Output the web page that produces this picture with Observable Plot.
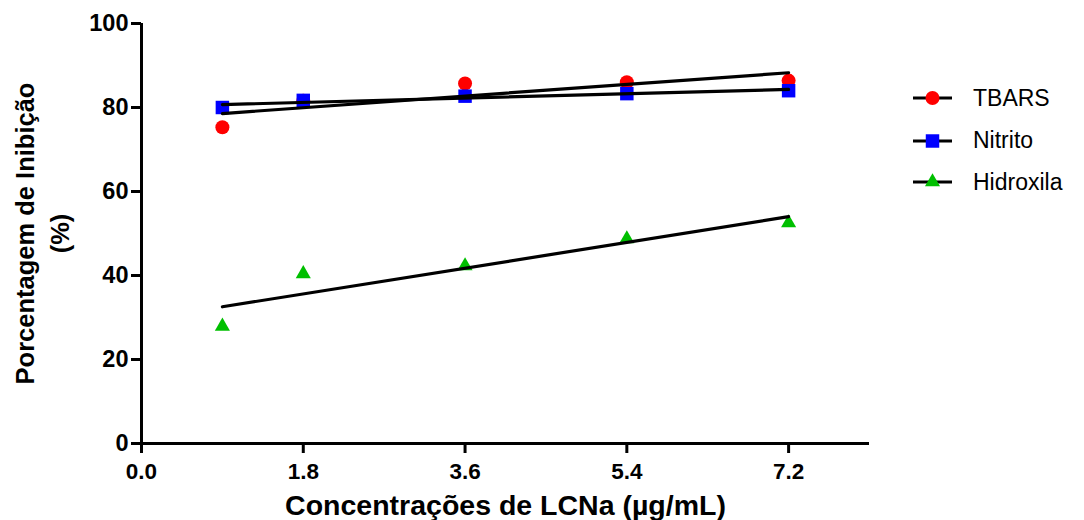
<!DOCTYPE html>
<html>
<head>
<meta charset="utf-8">
<script src="https://cdn.jsdelivr.net/npm/d3@7"></script>
<script src="https://cdn.jsdelivr.net/npm/@observablehq/plot@0.6"></script>
<style>
  html, body { margin: 0; padding: 0; background: white; }
  #wrap { position: relative; width: 1084px; height: 520px; overflow: hidden; font-family: "Liberation Sans", Arial, sans-serif; }
  #legend { position: absolute; left: 913px; top: 0; }
  .lg-row { position: absolute; left: 0; display: flex; align-items: center; white-space: nowrap; }
  .lg-row span { font-size: 23px; color: black; margin-left: 21px; }
</style>
</head>
<body>
<div id="wrap"><div id="legend"></div></div>
<script>
// ---- data ----
const conc = [0.9, 1.8, 3.6, 5.4, 7.2];                 // µg/mL
const tbars = [75.3, 81.6, 85.7, 86.0, 86.4];
const nitrito = [80.0, 81.7, 82.7, 83.3, 84.0];
const hidroxila = [27.9, 40.4, 42.3, 48.7, 52.5];
const seriesNames = ["TBARS", "Nitrito", "Hidroxila"];
const seriesColors = ["#ff0000", "#0000ff", "#00bf00"];
const seriesSymbols = ["circle", "square", "triangle"];
const xTicks = [0, 1.8, 3.6, 5.4, 7.2];
const yTicks = [0, 20, 40, 60, 80, 100];
const xTitle = "Concentrações de LCNa (µg/mL)";
const yTitle = "Porcentagem de Inibição\n(%)";

const seriesValues = [tbars, nitrito, hidroxila];
const tables = seriesValues.map((vals, i) =>
  conc.map((c, j) => ({x: c, y: vals[j], series: seriesNames[i]})));

const symR = {circle: 7, square: 7.6, triangle: 5.6};

const marks = [];
tables.forEach((t, i) => {
  marks.push(Plot.dot(t, {x: "x", y: "y", symbol: () => seriesSymbols[i], r: symR[seriesSymbols[i]],
    fill: seriesColors[i], stroke: "none"}));
});
tables.forEach((t) => {
  marks.push(Plot.linearRegressionY(t, {x: "x", y: "y", ci: 0, stroke: "black", strokeWidth: 3.2}));
});
marks.push(
  Plot.ruleX([0], {stroke: "black", strokeWidth: 3}),
  Plot.ruleY([0], {stroke: "black", strokeWidth: 3}),
  Plot.axisY({ticks: yTicks, tickSize: 10, tickPadding: 3, strokeWidth: 3, fontSize: 23.5, fontWeight: "bold", label: null}),
  Plot.axisX({ticks: xTicks, tickFormat: d3.format(".1f"), tickSize: 10, tickPadding: 10, strokeWidth: 3, fontSize: 22.5, fontWeight: "bold", label: null}),
  Plot.text([yTitle], {frameAnchor: "left", textAnchor: "middle", dx: -101, rotate: -90, lineHeight: 1.36, fontSize: 25.5, fontWeight: "bold", fill: "black", text: d => d}),
  Plot.text([xTitle], {frameAnchor: "bottom", lineAnchor: "top", dy: 51, fontSize: 28.5, fontWeight: "bold", fill: "black", text: d => d})
);

const chart = Plot.plot({
  width: 1084,
  height: 520,
  marginLeft: 141,
  marginRight: 215,
  marginTop: 23,
  marginBottom: 77,
  x: {domain: [0, 8.1]},
  y: {domain: [0, 100]},
  style: {fontFamily: "'Liberation Sans', Arial, sans-serif", color: "black", background: "white", overflow: "visible"},
  marks
});
document.getElementById("wrap").prepend(chart);

// ---- legend (HTML) ----
const legend = document.getElementById("legend");
const rowCenters = [98, 140.5, 182];
seriesNames.forEach((name, i) => {
  const row = document.createElement("div");
  row.className = "lg-row";
  row.style.top = (rowCenters[i] - 15) + "px";
  row.style.height = "30px";
  const svg = d3.create("svg").attr("width", 39).attr("height", 30);
  svg.append("line").attr("x1", 0).attr("x2", 39).attr("y1", 15).attr("y2", 15)
    .attr("stroke", "black").attr("stroke-width", 3);
  const r = symR[seriesSymbols[i]];
  const sym = {circle: d3.symbolCircle, square: d3.symbolSquare, triangle: d3.symbolTriangle}[seriesSymbols[i]];
  svg.append("path").attr("transform", "translate(19.5,15)")
    .attr("d", d3.symbol(sym, Math.PI * r * r)()).attr("fill", seriesColors[i]);
  row.appendChild(svg.node());
  const sp = document.createElement("span");
  sp.textContent = name;
  row.appendChild(sp);
  legend.appendChild(row);
});
</script>
</body>
</html>
